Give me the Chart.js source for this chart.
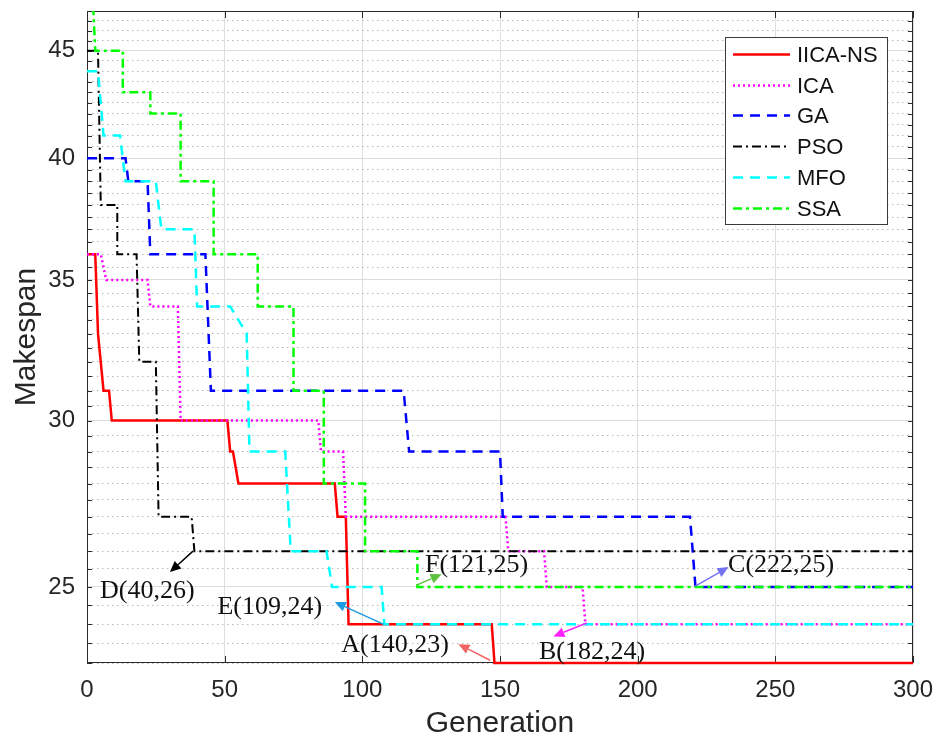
<!DOCTYPE html>
<html>
<head>
<meta charset="UTF-8">
<title>Makespan convergence</title>
<script src="https://cdn.jsdelivr.net/npm/chart.js"></script>
<style>
  html, body { margin: 0; padding: 0; background: #fff; }
</style>
</head>
<body>
<canvas id="chart" width="938" height="742"></canvas>
<script>
// ---- data (corner points of each convergence curve) ----
const seriesNames = ['IICA-NS', 'ICA', 'GA', 'PSO', 'MFO', 'SSA'];

const iicaGen = [0, 3, 4, 6, 8, 9, 51, 52, 53, 55, 90, 91, 94, 95, 147, 148, 300];
const iicaVal = [36, 36, 33, 31, 31, 30, 30, 29, 29, 28, 28, 27, 27, 24, 24, 23, 23];

const icaGen = [0, 5, 7, 22, 23, 33, 34, 84, 85, 93, 94, 152, 153, 166, 167, 180, 181, 300];
const icaVal = [36, 36, 35, 35, 34, 34, 30, 30, 29, 29, 27, 27, 26, 26, 25, 25, 24, 24];

const gaGen = [0, 14, 15, 22, 23, 43, 45, 115, 117, 150, 151, 219, 221, 300];
const gaVal = [40, 40, 39, 39, 36, 36, 31, 31, 29, 29, 27, 27, 25, 25];

const psoGen = [0, 4, 5, 11, 11, 18, 19, 25, 26, 38, 39, 300];
const psoVal = [45, 45, 38, 38, 36, 36, 32, 32, 27, 27, 26, 26];

const mfoGen = [0, 4, 6, 12, 14, 25, 27, 39, 40, 52, 58, 59, 72, 74, 87, 89, 107, 108, 300];
const mfoVal = [44, 44, 41, 41, 39, 39, 37, 37, 34, 34, 33, 29, 29, 26, 26, 25, 25, 24, 24];

const ssaGen = [0, 2, 3, 13, 13, 23, 23, 34, 34, 46, 46, 62, 62, 75, 75, 86, 86, 101, 101, 120, 120, 300];
const ssaVal = [48, 48, 45, 45, 43, 43, 42, 42, 39, 39, 36, 36, 34, 34, 31, 31, 28, 28, 26, 26, 25, 25];

const xTickValues = [0, 50, 100, 150, 200, 250, 300];
const yTickLabels = [25, 30, 35, 40, 45];

// annotations: text, text centre, arrow start, arrow head (data units)
const noteText  = ['D(40,26)', 'E(109,24)', 'A(140,23)', 'F(121,25)', 'C(222,25)', 'B(182,24)'];
const noteAt    = [[21.9, 24.88], [66.4, 24.46], [111.9, 23.45], [141.5, 25.60], [252.1, 25.60], [183.4, 23.28]];
const arrowFrom = [[38.5, 26.0], [107.6, 24.0], [146.4, 23.07], [119.7, 25.05], [220.9, 25.02], [181.5, 24.03]];
const arrowTo   = [[30.1, 25.41], [90.0, 24.59], [134.9, 23.48], [128.8, 25.35], [233.0, 25.55], [169.4, 23.68]];
const arrowColor = ['#000000', '#1e9be0', '#f26464', '#5cc03c', '#7474f2', '#ff22ff'];

// ---- styles ----
const colors = ['#ff0000', '#ff00ff', '#0000ff', '#000000', '#00ffff', '#00ff00'];
const dashes = [[], [2, 3], [10, 7], [9, 4, 2, 4], [10, 7], [9, 4, 3, 4]];
const widths = [2.5, 2.5, 2.5, 2, 2.5, 2.5];

const gens = [iicaGen, icaGen, gaGen, psoGen, mfoGen, ssaGen];
const vals = [iicaVal, icaVal, gaVal, psoVal, mfoVal, ssaVal];

const yGridValues = [];
for (let v = 23; v <= 47; v += 0.5) yGridValues.push(v);
const isMajor = v => yTickLabels.includes(v);

const datasets = seriesNames.map((name, i) => ({
  label: name,
  data: gens[i].map((g, k) => ({ x: g, y: vals[i][k] })),
  borderColor: colors[i],
  borderWidth: widths[i],
  borderDash: dashes[i],
  pointRadius: 0,
  fill: false,
  tension: 0,
  clip: { left: 3, top: 0, right: 3, bottom: 3 },
  order: seriesNames.length - i
}));

const frame = {
  id: 'frame',
  beforeDatasetsDraw(chart) {
    const { ctx, chartArea: a, scales: { x, y } } = chart;
    ctx.save();
    ctx.strokeStyle = '#2b2b2b';
    ctx.lineWidth = 1;
    ctx.setLineDash([]);
    ctx.strokeRect(a.left + 0.5, a.top + 0.5, a.right - a.left - 1, a.bottom - a.top - 1);
    ctx.beginPath();
    y.ticks.forEach(t => {
      const py = Math.round(y.getPixelForValue(t.value)) + 0.5;
      ctx.moveTo(a.left, py); ctx.lineTo(a.left + 5, py);
      ctx.moveTo(a.right, py); ctx.lineTo(a.right - 5, py);
    });
    x.ticks.forEach(t => {
      const px = Math.round(x.getPixelForValue(t.value)) + 0.5;
      ctx.moveTo(px, a.bottom); ctx.lineTo(px, a.bottom - 7);
      ctx.moveTo(px, a.top); ctx.lineTo(px, a.top + 7);
    });
    ctx.stroke();
    ctx.restore();
  }
};

const notes = {
  id: 'notes',
  afterDraw(chart) {
    const { ctx, scales: { x, y } } = chart;
    ctx.save();
    ctx.font = '26px "Liberation Serif", "Times New Roman", serif';
    ctx.textAlign = 'center';
    ctx.textBaseline = 'middle';
    noteText.forEach((txt, i) => {
      ctx.fillStyle = '#111';
      ctx.fillText(txt, x.getPixelForValue(noteAt[i][0]), y.getPixelForValue(noteAt[i][1]));
      const x0 = x.getPixelForValue(arrowFrom[i][0]), y0 = y.getPixelForValue(arrowFrom[i][1]);
      const x1 = x.getPixelForValue(arrowTo[i][0]), y1 = y.getPixelForValue(arrowTo[i][1]);
      const ang = Math.atan2(y1 - y0, x1 - x0);
      const hl = 11, hw = 5;
      ctx.strokeStyle = arrowColor[i];
      ctx.fillStyle = arrowColor[i];
      ctx.lineWidth = 1.5;
      ctx.beginPath();
      ctx.moveTo(x0, y0);
      ctx.lineTo(x1 - hl * Math.cos(ang), y1 - hl * Math.sin(ang));
      ctx.stroke();
      ctx.beginPath();
      ctx.moveTo(x1, y1);
      ctx.lineTo(x1 - hl * Math.cos(ang) + hw * Math.sin(ang), y1 - hl * Math.sin(ang) - hw * Math.cos(ang));
      ctx.lineTo(x1 - hl * Math.cos(ang) - hw * Math.sin(ang), y1 - hl * Math.sin(ang) + hw * Math.cos(ang));
      ctx.closePath();
      ctx.fill();
    });
    ctx.restore();
  }
};

const boxLegend = {
  id: 'boxLegend',
  afterDraw(chart) {
    const { ctx } = chart;
    ctx.save();
    ctx.fillStyle = '#fff';
    ctx.fillRect(725, 37, 162, 187);
    ctx.strokeStyle = '#3a3a3a';
    ctx.lineWidth = 1;
    ctx.setLineDash([]);
    ctx.strokeRect(725.5, 37.5, 162, 187);
    ctx.font = '22px "Liberation Sans", Arial, sans-serif';
    ctx.textAlign = 'left';
    ctx.textBaseline = 'middle';
    chart.data.datasets.forEach((ds, i) => {
      const cy = Math.round(54 + i * 30.7) + 0.5;
      ctx.strokeStyle = ds.borderColor;
      ctx.lineWidth = ds.borderWidth;
      ctx.setLineDash(ds.borderDash);
      ctx.beginPath();
      ctx.moveTo(733, cy);
      ctx.lineTo(790, cy);
      ctx.stroke();
      ctx.setLineDash([]);
      ctx.fillStyle = '#111';
      ctx.fillText(ds.label, 797, cy + 1);
    });
    ctx.restore();
  }
};

const noPad = s => { s.paddingTop = 0; s.paddingBottom = 0; s.paddingLeft = 0; s.paddingRight = 0; };
const tickFont = { family: '"Liberation Sans", Arial, sans-serif', size: 24 };
const titleFont = { family: '"Liberation Sans", Arial, sans-serif', size: 30 };

new Chart(document.getElementById('chart').getContext('2d'), {
  type: 'line',
  data: { datasets },
  options: {
    responsive: false,
    animation: false,
    layout: { padding: { left: 0, right: 25, top: 11, bottom: 0 } },
    plugins: { legend: { display: false }, tooltip: { enabled: false } },
    scales: {
      x: {
        type: 'linear',
        min: 0, max: 300,
        afterBuildTicks: s => { s.ticks = xTickValues.map(v => ({ value: v })); },
        afterFit: s => { s.height = 79; noPad(s); },
        ticks: { font: tickFont, color: '#262626', padding: 13, maxRotation: 0, autoSkip: false },
        grid: { color: '#dedede', lineWidth: 1, drawTicks: false },
        border: { display: false },
        title: { display: true, text: 'Generation', font: titleFont, color: '#262626', padding: { top: 0, bottom: 0 } }
      },
      y: {
        type: 'logarithmic',
        min: 23, max: 47,
        afterBuildTicks: s => { s.ticks = yGridValues.map(v => ({ value: v })); },
        afterFit: s => { s.width = 87; noPad(s); },
        ticks: {
          font: tickFont, color: '#262626', padding: 12, autoSkip: false,
          callback: v => isMajor(v) ? String(v) : ''
        },
        grid: {
          color: c => (c.tick && isMajor(c.tick.value)) ? '#dcdcdc' : '#b8b8b8',
          lineWidth: 1, drawTicks: false
        },
        border: { display: false, dash: c => (c.tick && isMajor(c.tick.value)) ? [] : [1.5, 3.5] },
        title: { display: true, text: 'Makespan', font: titleFont, color: '#262626', padding: { top: 9, bottom: 0 } }
      }
    }
  },
  plugins: [frame, notes, boxLegend]
});
</script>
</body>
</html>
